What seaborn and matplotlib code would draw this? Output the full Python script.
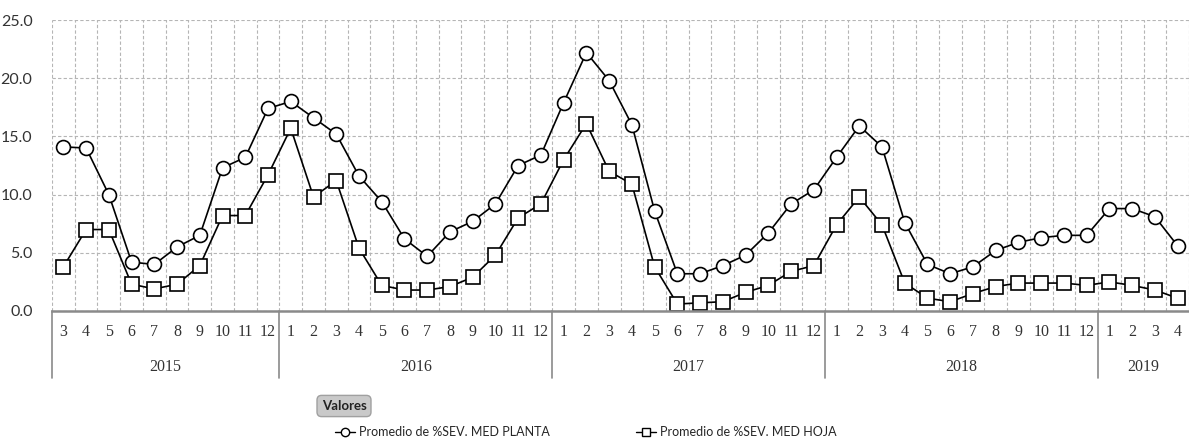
import matplotlib
matplotlib.use('Agg')
import matplotlib.pyplot as plt
import matplotlib.transforms as mtransforms
from matplotlib.lines import Line2D
import numpy as np
import pandas as pd
import seaborn as sns

# months shown on the x axis, grouped by year
year_names = ['2015', '2016', '2017', '2018', '2019']
year_months = [
    [3, 4, 5, 6, 7, 8, 9, 10, 11, 12],
    [1, 2, 3, 4, 5, 6, 7, 8, 9, 10, 11, 12],
    [1, 2, 3, 4, 5, 6, 7, 8, 9, 10, 11, 12],
    [1, 2, 3, 4, 5, 6, 7, 8, 9, 10, 11, 12],
    [1, 2, 3, 4],
]

# Promedio de %SEV. MED PLANTA (circles)
planta = [14.1, 14.0, 10.0, 4.2, 4.0, 5.5, 6.5, 12.3, 13.2, 17.4,
          18.0, 16.6, 15.2, 11.6, 9.4, 6.2, 4.7, 6.8, 7.7, 9.2, 12.5, 13.4,
          17.9, 22.2, 19.8, 16.0, 8.6, 3.2, 3.2, 3.9, 4.8, 6.7, 9.2, 10.4,
          13.2, 15.9, 14.1, 7.6, 4.0, 3.2, 3.8, 5.2, 5.9, 6.3, 6.5, 6.5,
          8.8, 8.8, 8.1, 5.6]

# Promedio de %SEV. MED HOJA (squares)
hoja = [3.8, 7.0, 7.0, 2.3, 1.9, 2.3, 3.9, 8.2, 8.2, 11.7,
        15.7, 9.8, 11.2, 5.4, 2.2, 1.8, 1.8, 2.1, 2.9, 4.8, 8.0, 9.2,
        13.0, 16.1, 12.0, 10.9, 3.8, 0.6, 0.7, 0.8, 1.6, 2.2, 3.4, 3.9,
        7.4, 9.8, 7.4, 2.4, 1.1, 0.8, 1.5, 2.1, 2.4, 2.4, 2.4, 2.2,
        2.5, 2.2, 1.8, 1.1]

legend_labels = ['Promedio de %SEV. MED PLANTA', 'Promedio de %SEV. MED HOJA']

month_labels = [str(m) for ms in year_months for m in ms]
idx = np.arange(len(month_labels))
df = pd.DataFrame({'i': idx, 'planta': planta, 'hoja': hoja})

sns.set_style('white')
plt.rcParams['font.family'] = ['Lato', 'DejaVu Sans']

W, H = 1189, 441
fig = plt.figure(figsize=(W / 100, H / 100), dpi=100)
ax = fig.add_axes([52 / W, 1 - 311 / H, 1 - 52 / W, (311 - 20) / H])

line_kw = dict(color='black', linewidth=1.2, markersize=10, markerfacecolor='white',
               markeredgecolor='black', markeredgewidth=1.2, legend=False, ax=ax)
sns.lineplot(data=df, x='i', y='planta', marker='o', **line_kw)
sns.lineplot(data=df, x='i', y='hoja', marker='s', **line_kw)

ax.set_xlim(-0.5, (W - 63) / 22.84)
ax.set_ylim(0, 25)
ax.set_xlabel('')
ax.set_ylabel('')

# y axis
ax.set_yticks([0, 5, 10, 15, 20, 25])
ax.set_yticklabels([f'{v:.1f}' for v in [0, 5, 10, 15, 20, 25]])
ax.tick_params(axis='y', length=0, pad=14, labelsize=11.5, labelcolor='#333333')

# x axis: months on ticks, gridlines on category edges
ax.set_xticks(idx)
ax.set_xticklabels(month_labels, family='Liberation Serif')
ax.set_xticks(np.append(idx - 0.5, idx[-1] + 0.5), minor=True)
ax.tick_params(axis='x', which='both', length=0, pad=9, labelsize=11.5, labelcolor='#333333')

grid_kw = dict(color='#b5b5b5', linestyle=(0, (3, 2)), linewidth=0.8)
ax.grid(False)
ax.yaxis.grid(True, **grid_kw)
ax.xaxis.grid(True, which='minor', **grid_kw)

for side in ['top', 'right', 'left']:
    ax.spines[side].set_visible(False)
ax.spines['bottom'].set_color('#8a8a8a')
ax.spines['bottom'].set_linewidth(1.8)

# year row with separators
trans = mtransforms.blended_transform_factory(ax.transData, ax.transAxes)
start = 0
for name, ms in zip(year_names, year_months):
    end = start + len(ms)
    ax.plot([start - 0.5, start - 0.5], [0, -0.23], transform=trans, clip_on=False,
            color='#8a8a8a', linewidth=1.2)
    ax.text((start + end - 1) / 2, -0.192, name, transform=trans, ha='center', va='center',
            fontsize=11.5, family='Liberation Serif', color='#333333')
    start = end

# "Valores" button and legend
fig.text(344 / W, 1 - 406 / H, 'Valores', ha='center', va='center', fontsize=9.5,
         fontweight='bold', color='#222222',
         bbox=dict(boxstyle='round,pad=0.35', facecolor='#c9c9c9', edgecolor='#a0a0a0'))

handles = [Line2D([], [], color='black', linewidth=1.0, marker=m, markersize=6,
                  markerfacecolor='white', markeredgecolor='black')
           for m in ['o', 's']]
for h, lab, x0 in zip(handles, legend_labels, [335, 636]):
    fig.legend([h], [lab], loc='center left', bbox_to_anchor=(x0 / W, 1 - 432 / H),
               frameon=False, fontsize=9, handlelength=1.6, handletextpad=0.3,
               borderaxespad=0, borderpad=0)

fig.savefig('out.png', dpi=100, facecolor='white')
